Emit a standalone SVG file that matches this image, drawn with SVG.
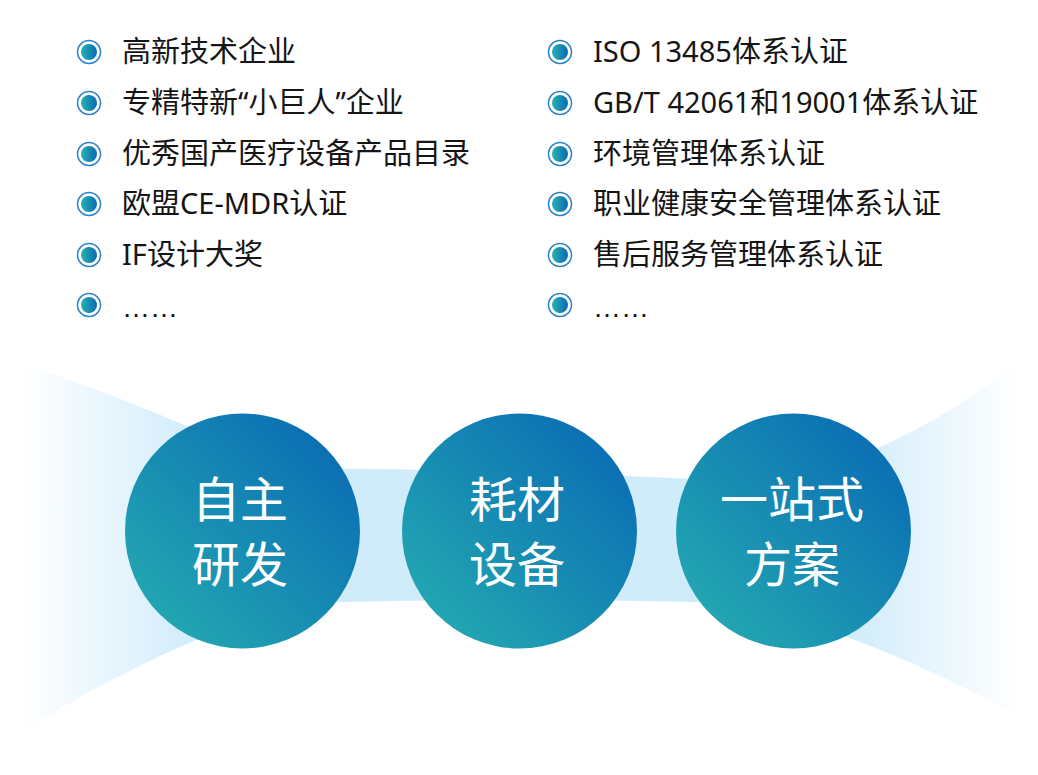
<svg xmlns="http://www.w3.org/2000/svg" width="1038" height="775" viewBox="0 0 1038 775">
<defs>
<linearGradient id="gCircle" x1="0" y1="1" x2="1" y2="0">
<stop offset="0.1" stop-color="#24a8b1"/>
<stop offset="0.9" stop-color="#0a6db4"/>
</linearGradient>
<linearGradient id="gDot" x1="0" y1="0" x2="1" y2="0">
<stop offset="0" stop-color="#27b3b0"/>
<stop offset="1" stop-color="#0b69b6"/>
</linearGradient>
<linearGradient id="gFanL" gradientUnits="userSpaceOnUse" x1="20" y1="0" x2="200" y2="0">
<stop offset="0" stop-color="#d0ecfb" stop-opacity="0"/>
<stop offset="1" stop-color="#d0ecfb" stop-opacity="1"/>
</linearGradient>
<linearGradient id="gFanR" gradientUnits="userSpaceOnUse" x1="850" y1="0" x2="1018" y2="0">
<stop offset="0" stop-color="#d0ecfb" stop-opacity="1"/>
<stop offset="1" stop-color="#d0ecfb" stop-opacity="0"/>
</linearGradient>
<g id="bullet">
<circle r="11.5" fill="none" stroke="#2a80cc" stroke-width="1.5"/>
<circle r="8" fill="url(#gDot)"/>
</g>
</defs>
<style>
.t{font-family:"Noto Sans","Noto Sans CJK SC",sans-serif;font-size:29px;fill:#151515}
.e{font-family:"Liberation Sans",sans-serif;font-size:28px;fill:#151515}
.c{font-family:"Noto Sans CJK SC",sans-serif;font-size:48px;fill:#ffffff;text-anchor:middle}
</style>
<rect width="1038" height="775" fill="#ffffff"/>
<g id="connectors">
<path d="M20,363 Q110,392 205,434 L205,636 Q110,676 20,733 Z" fill="url(#gFanL)"/>
<path d="M300,468 Q520,470 740,481 L740,603 Q520,597 300,603 Z" fill="#d0ecfb"/>
<path d="M845,462 Q940,425 1018,362 L1018,716 Q940,672 845,636 Z" fill="url(#gFanR)"/>
</g>
<g id="list-left">
<g id="l1"><use href="#bullet" x="89" y="52"/><text class="t" x="122" y="62">高新技术企业</text></g>
<g id="l2"><use href="#bullet" x="89" y="103"/><text class="t" x="122" y="113">专精特新“小巨人”企业</text></g>
<g id="l3"><use href="#bullet" x="89" y="154"/><text class="t" x="122" y="164">优秀国产医疗设备产品目录</text></g>
<g id="l4"><use href="#bullet" x="89" y="204"/><text class="t" x="122" y="214">欧盟CE-MDR认证</text></g>
<g id="l5"><use href="#bullet" x="89" y="255"/><text class="t" x="122" y="265">IF设计大奖</text></g>
<g id="l6"><use href="#bullet" x="89" y="305"/><text class="e" x="122" y="317">……</text></g>
</g>
<g id="list-right">
<g id="r1"><use href="#bullet" x="560" y="52"/><text class="t" x="593" y="62">ISO 13485体系认证</text></g>
<g id="r2"><use href="#bullet" x="560" y="103"/><text class="t" x="593" y="113">GB/T 42061和19001体系认证</text></g>
<g id="r3"><use href="#bullet" x="560" y="154"/><text class="t" x="593" y="164">环境管理体系认证</text></g>
<g id="r4"><use href="#bullet" x="560" y="204"/><text class="t" x="593" y="214">职业健康安全管理体系认证</text></g>
<g id="r5"><use href="#bullet" x="560" y="255"/><text class="t" x="593" y="265">售后服务管理体系认证</text></g>
<g id="r6"><use href="#bullet" x="560" y="305"/><text class="e" x="593" y="317">……</text></g>
</g>
<g id="node-rd">
<circle cx="242.5" cy="531" r="117.5" fill="url(#gCircle)"/>
<text class="c" x="240" y="517">自主</text>
<text class="c" x="240" y="582">研发</text>
</g>
<g id="node-equip">
<circle cx="519.5" cy="531" r="117.5" fill="url(#gCircle)"/>
<text class="c" x="517" y="517">耗材</text>
<text class="c" x="517" y="582">设备</text>
</g>
<g id="node-solution">
<circle cx="793.5" cy="531" r="117.5" fill="url(#gCircle)"/>
<text class="c" x="792" y="517">一站式</text>
<text class="c" x="792" y="582">方案</text>
</g>
</svg>
